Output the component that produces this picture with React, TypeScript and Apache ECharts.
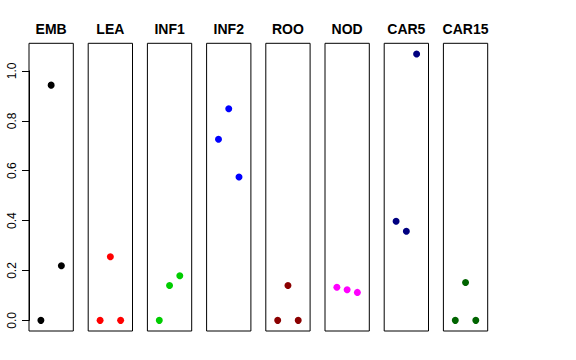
import React, { useEffect, useRef } from "react";
import * as echarts from "echarts";

const panels = ["EMB", "LEA", "INF1", "INF2", "ROO", "NOD", "CAR5", "CAR15"];
const colors = ["#000000", "#FF0000", "#00CD00", "#0000FF", "#8B0000", "#FF00FF", "#000080", "#006400"];
const xPositions = [1, 2, 3];
const values: number[][] = [
  [0.0, 0.943, 0.219],
  [0.0, 0.255, 0.0],
  [0.0, 0.140, 0.179],
  [0.726, 0.848, 0.575],
  [0.0, 0.140, 0.0],
  [0.133, 0.123, 0.112],
  [0.397, 0.357, 1.068],
  [0.0, 0.152, 0.0],
];
const yTicks = [0, 0.2, 0.4, 0.6, 0.8, 1.0];

export default function App() {
  const ref = useRef<HTMLDivElement>(null);
  useEffect(() => {
    if (!ref.current) return;
    const chart = echarts.init(ref.current, null, { renderer: "svg" });
    const all = values.flat();
    const dmin = Math.min(...all);
    const dmax = Math.max(...all);
    const pad = (dmax - dmin) * 0.04;
    const yMin = dmin - pad;
    const yMax = dmax + pad;
    const top = 43.3;
    const height = 287.7;
    const left0 = 29;
    const pitch = 59.2;
    const width = 44.3;
    const zeroY = top + height * (yMax - 0) / (yMax - yMin);
    const oneY = top + height * (yMax - 1) / (yMax - yMin);

    const grids: any[] = [];
    const xAxes: any[] = [];
    const yAxes: any[] = [];
    const series: any[] = [];
    const graphics: any[] = [];
    panels.forEach((name, i) => {
      const left = left0 + i * pitch;
      grids.push({ left, top, width, height, show: true, borderColor: "#000", borderWidth: 1, backgroundColor: "transparent" });
      xAxes.push({ type: "value", gridIndex: i, min: -0.16, max: 4.16, show: false });
      yAxes.push({ type: "value", gridIndex: i, min: yMin, max: yMax, show: false });
      series.push({
        type: "scatter",
        xAxisIndex: i,
        yAxisIndex: i,
        symbolSize: 7,
        itemStyle: { color: colors[i], opacity: 1 },
        data: values[i].map((v, j) => [xPositions[j], v]),
      });
      graphics.push({
        type: "text",
        x: left + width / 2,
        y: 29,
        style: {
          text: name,
          fill: "#000",
          font: "bold 14px 'Liberation Sans', Arial, sans-serif",
          textAlign: "center",
          textVerticalAlign: "middle",
        },
      });
    });
    // axis grid for y tick labels
    grids.push({ left: left0, top: oneY, width: 1, height: zeroY - oneY, show: false });
    xAxes.push({ type: "value", gridIndex: 8, show: false });
    yAxes.push({
      type: "value",
      gridIndex: 8,
      min: yTicks[0],
      max: yTicks[yTicks.length - 1],
      interval: 0.2,
      axisLine: { show: true, lineStyle: { color: "#000", width: 1 } },
      axisTick: { show: true, length: 7, lineStyle: { color: "#000", width: 1 } },
      splitLine: { show: false },
      axisLabel: {
        rotate: 90,
        margin: 11,
        fontSize: 12,
        color: "#000",
        fontFamily: "'Liberation Sans', Arial, sans-serif",
        formatter: (v: number) => v.toFixed(1),
      },
    });

    chart.setOption({
      animation: false,
      backgroundColor: "#fff",
      grid: grids,
      xAxis: xAxes,
      yAxis: yAxes,
      series,
      graphic: graphics,
    });
    return () => chart.dispose();
  }, []);
  return <div ref={ref} style={{ position: "absolute", left: 0, top: 0, width: 576, height: 360 }} />;
}
